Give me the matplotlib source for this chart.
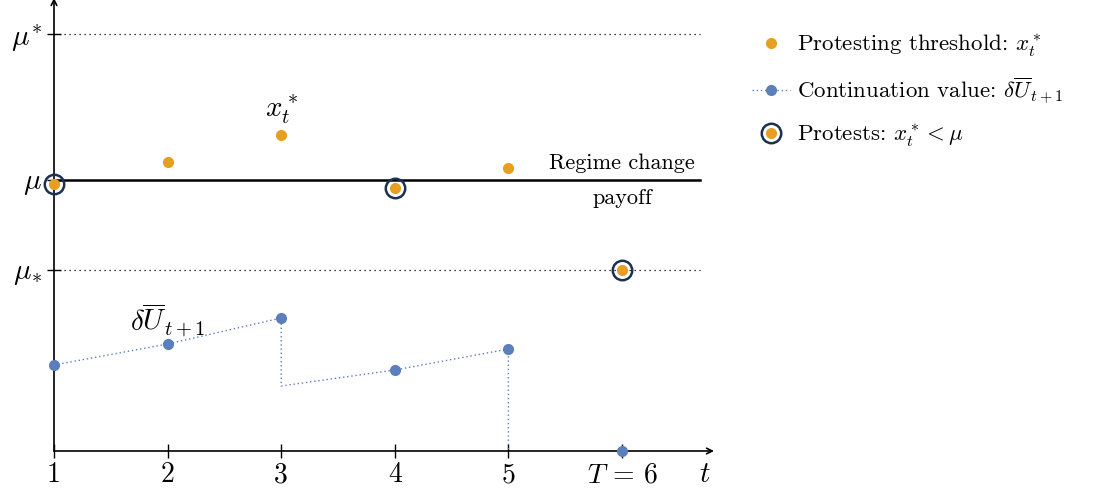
import matplotlib.pyplot as plt
from matplotlib.lines import Line2D
import numpy as np

plt.rcParams['font.family'] = 'serif'
plt.rcParams['font.serif'] = ['cmr10', 'DejaVu Serif']
plt.rcParams['mathtext.fontset'] = 'cm'
plt.rcParams['axes.formatter.use_mathtext'] = True

orange = '#e69f22'
blue = '#5b7fbb'
navy = '#1c3150'

# data (y in arbitrary units, 0 = bottom axis)
periods = [1, 2, 3, 4, 5, 6]
x_star = [2.67, 2.89, 3.16, 2.63, 2.83, 1.81]
cont_val = [0.86, 1.07, 1.33, 0.81, 1.02, 0.0]
protests = [1, 4, 6]
mu_upper = 4.17
mu = 2.71
mu_lower = 1.81
# continuation value path incl. jumps
path_x = [1, 2, 3, 3, 4, 5, 5]
path_y = [0.86, 1.07, 1.33, 0.65, 0.81, 1.02, 0.0]
xtick_labels = ['1', '2', '3', '4', '5', r'$T$ = 6']

fig = plt.figure(figsize=(11.16, 4.92), dpi=100)
ax = fig.add_axes([54/1116, 41/492, (712-54)/1116, 451/492])
ax.set_xlim(1, 1 + (712-54)/113.6)
ax.set_ylim(0, 4.51)
for s in ax.spines.values():
    s.set_visible(False)

# axes with arrows
ax.annotate('', xy=(1 + (714-54)/113.6, 0), xytext=(1, 0),
            arrowprops=dict(arrowstyle='->', lw=1.2, color='black', shrinkA=0, shrinkB=0),
            annotation_clip=False)
ax.annotate('', xy=(1, 4.53), xytext=(1, 0),
            arrowprops=dict(arrowstyle='->', lw=1.2, color='black', shrinkA=0, shrinkB=0),
            annotation_clip=False)

xend = 1 + (700-54)/113.6
ax.plot([1, xend], [mu_upper, mu_upper], ls=(0, (1, 3)), color='black', lw=0.9)
ax.plot([1, xend], [mu_lower, mu_lower], ls=(0, (1, 3)), color='black', lw=0.9)
ax.plot([1, xend], [mu, mu], color='black', lw=1.8)

ax.text(6, mu + 0.07, 'Regime change', ha='center', va='bottom', fontsize=16)
ax.text(6, mu - 0.08, 'payoff', ha='center', va='top', fontsize=16)

# continuation value
ax.plot(path_x, path_y, ls=(0, (1, 2)), color=blue, lw=1.0, zorder=2)
ax.plot(periods, cont_val, 'o', color=blue, ms=7, zorder=3, clip_on=False)

# thresholds
ax.plot(periods, x_star, 'o', color=orange, ms=7, zorder=4, clip_on=False)
prot_y = [x_star[periods.index(p)] for p in protests]
ax.plot(protests, prot_y, 'o', mfc='none', mec=navy, mew=1.8, ms=14, zorder=5, clip_on=False)

ax.text(3, 3.41, '$x_t^*$', ha='center', va='center', fontsize=21)
ax.text(2.0, 1.31, r'$\delta\overline{U}_{t+1}$', ha='center', va='center', fontsize=21)

ax.set_xticks(periods)
ax.set_xticklabels(xtick_labels, fontsize=20)
ax.tick_params(axis='x', direction='inout', length=10, width=1.0, pad=3)
ax.set_yticks([mu_lower, mu, mu_upper])
ax.set_yticklabels([r'$\mu_{\!*}$', r'$\mu$', r'$\mu^{\!*}$'], fontsize=21)
ax.tick_params(axis='y', direction='inout', length=10, width=1.0, pad=4)
ax.text(1 + (705-54)/113.6, -0.24, '$t$', ha='center', va='center', fontsize=21)

h1 = Line2D([], [], marker='o', color=orange, ls='none', ms=7)
h2 = Line2D([], [], marker='o', color=blue, ls=(0, (1, 2)), lw=1.0, ms=7)
h3a = Line2D([], [], marker='o', mfc='none', mec=navy, mew=1.8, ms=14, ls='none')
h3b = Line2D([], [], marker='o', color=orange, ms=7, ls='none')
fig.legend([h1, h2, (h3a, h3b)],
           ['Protesting threshold: $x_t^*$',
            r'Continuation value: $\delta\overline{U}_{t+1}$',
            'Protests: $x_t^* < \\mu$'],
           loc='upper left', bbox_to_anchor=(752/1116, 1 - 33/492),
           frameon=False, fontsize=16.5, labelspacing=0.7, handlelength=1.66,
           handletextpad=0.3, borderpad=0, borderaxespad=0)

fig.savefig('out.png', dpi=100)
